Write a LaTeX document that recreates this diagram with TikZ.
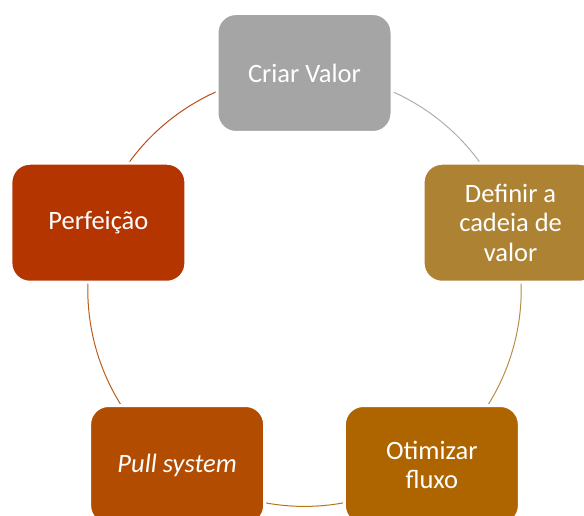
\documentclass[tikz,border=0pt]{standalone}
\usepackage{fontspec}
\setmainfont{Carlito}
\usetikzlibrary{calc,backgrounds}
\definecolor{cgrey}{HTML}{A5A5A5}
\definecolor{cgold}{HTML}{AD8333}
\definecolor{cochre}{HTML}{AE6500}
\definecolor{crust}{HTML}{B24C00}
\definecolor{cbrick}{HTML}{B53500}
\begin{document}
\begin{tikzpicture}[x=1pt,y=1pt,
  stage/.style={rounded corners=19pt, minimum width=175pt, minimum height=119pt,
    draw=white, line width=3pt, text=white, align=center, inner sep=0pt,
    font=\fontsize{26.5}{29.5}\selectfont},
  link/.style={line width=1pt}]
\useasboundingbox (0,0) rectangle (584,516);
\clip (0,0) rectangle (584,516);
\coordinate (c) at (304.5,226.3);
% five stages on a circle
\node[stage, fill=cgrey]  (criar)    at ($(c)+(90:216.7)$)   {Criar Valor};
\node[stage, fill=cgold]  (definir)  at ($(c)+(18:216.7)$)   {Definir a\\cadeia de\\valor};
\node[stage, fill=cochre] (otimizar) at ($(c)+(-54:216.7)$)  {Otimizar\\fluxo};
\node[stage, fill=crust]  (pull)     at ($(c)+(-126:216.7)$) {\itshape Pull system};
\node[stage, fill=cbrick] (perf)     at ($(c)+(162:216.7)$)  {Perfeição};
% connecting arcs behind the stages
\begin{scope}[on background layer]
  \draw[link, cgrey!90]   (criar.center)    arc[start angle=90,   end angle=18,   radius=216.7];
  \draw[link, cgold!90]   (definir.center)  arc[start angle=18,   end angle=-54,  radius=216.7];
  \draw[link, cochre!90]  (otimizar.center) arc[start angle=-54,  end angle=-126, radius=216.7];
  \draw[link, crust!90]   (pull.center)     arc[start angle=-126, end angle=-198, radius=216.7];
  \draw[link, cbrick!90]  (perf.center)     arc[start angle=162,  end angle=90,   radius=216.7];
\end{scope}
\end{tikzpicture}
\end{document}
